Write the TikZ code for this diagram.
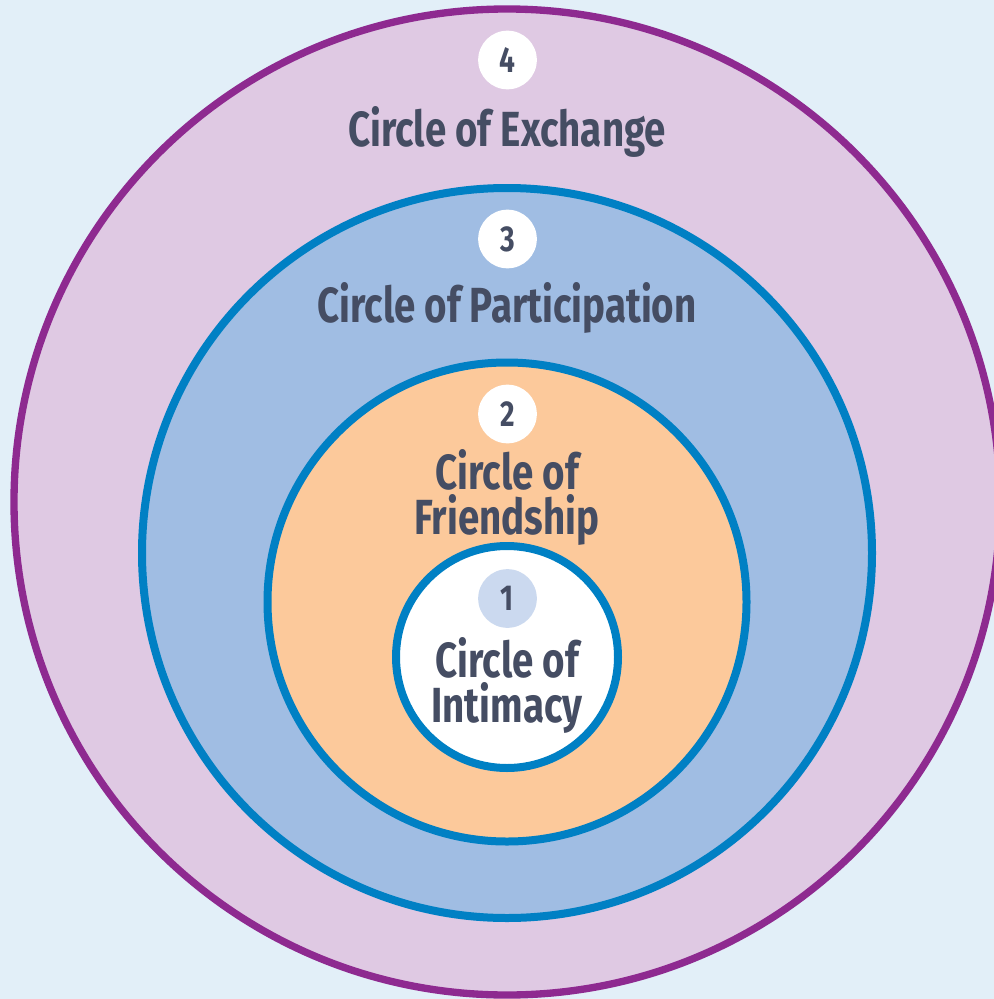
\documentclass[tikz,border=0pt]{standalone}
\usepackage{fontspec}
\setmainfont{Fira Sans}[FakeStretch=0.78]
\definecolor{bg}{HTML}{E2EFF8}
\definecolor{purfill}{HTML}{DFC9E3}
\definecolor{purline}{HTML}{8E2A90}
\definecolor{bluefill}{HTML}{A0BDE3}
\definecolor{blueline}{HTML}{0080C4}
\definecolor{orfill}{HTML}{FCC99B}
\definecolor{badgeone}{HTML}{CBD9EF}
\definecolor{txt}{HTML}{454D63}
\tikzset{
  ring/.style={circle, line width=6pt, inner sep=0pt},
  badge/.style={circle, fill=white, minimum size=44pt, inner sep=0pt, text=txt,
     font=\fontsize{27}{27}\selectfont\bfseries},
  label/.style={text=txt, align=center, anchor=base,
     font=\fontsize{37}{33.75}\selectfont\bfseries},
}
\begin{document}
\begin{tikzpicture}[x=0.75pt,y=-0.75pt]
\path[fill=bg] (0,0) rectangle (994,999);
\useasboundingbox (0,0) rectangle (994,999);
\begin{scope}
\clip (0,0) rectangle (994,999);
\node[ring, draw=purline, fill=purfill, line width=5.5pt, minimum size=739.5pt] (c4) at (507,502) {};
\end{scope}
\node[ring, draw=blueline, fill=bluefill, minimum size=547.5pt] (c3) at (507,553) {};
\node[ring, draw=blueline, fill=orfill, minimum size=359.25pt] (c2) at (507,602) {};
\node[ring, draw=blueline, fill=white, minimum size=166.5pt] (c1) at (507,657) {};
\node[badge] (b4) at (507.5,60) {4};
\node[badge] (b3) at (507.5,239) {3};
\node[badge] (b2) at (507.5,414) {2};
\node[badge, fill=badgeone] (b1) at (507.5,598.5) {1};
\node[label] (t4) at (507,146) {Circle of Exchange};
\node[label] (t3) at (507,322) {Circle of Participation};
\node[label] (t2) at (507,534) {Circle of\\Friendship};
\node[label] (t1) at (507,722) {Circle of\\Intimacy};
\end{tikzpicture}
\end{document}
